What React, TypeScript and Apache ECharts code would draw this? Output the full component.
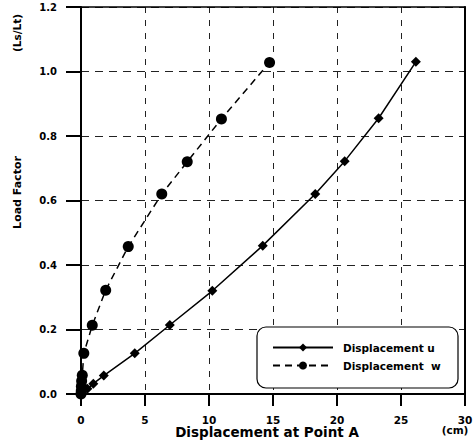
import React, { useEffect, useRef } from "react";
import * as echarts from "echarts";

const xTicks = [0, 5, 10, 15, 20, 25, 30];
const yTicks = [0, 0.2, 0.4, 0.6, 0.8, 1.0, 1.2];

const seriesUName = "Displacement u";
const seriesWName = "Displacement  w";

// [displacement (cm), load factor]
const dispU: [number, number][] = [
  [0, 0], [0.5, 0.016], [0.96, 0.032], [1.78, 0.057], [4.2, 0.126], [6.94, 0.214],
  [10.26, 0.32], [14.2, 0.46], [18.3, 0.62], [20.6, 0.722], [23.25, 0.855], [26.16, 1.03],
];
const dispW: [number, number][] = [
  [0, 0], [0.02, 0.01], [0.03, 0.024], [0.05, 0.04], [0.1, 0.058], [0.22, 0.126],
  [0.88, 0.213], [1.93, 0.322], [3.69, 0.457], [6.31, 0.62], [8.3, 0.72], [10.97, 0.853], [14.73, 1.028],
];

const FONT = "DejaVu Sans";

export default function App() {
  const ref = useRef<HTMLDivElement>(null);
  useEffect(() => {
    document.body.style.margin = "0";
    const chart = echarts.init(ref.current!, undefined, { renderer: "svg" });
    const xMin = xTicks[0], xMax = xTicks[xTicks.length - 1];
    const yMin = yTicks[0], yMax = yTicks[yTicks.length - 1];
    chart.setOption({
      animation: false,
      grid: { left: 81, right: 11, top: 7, bottom: 47 },
      xAxis: [
        {
          type: "value", min: xMin, max: xMax, interval: 5, position: "bottom",
          axisLine: { show: true, onZero: false, lineStyle: { color: "#000", width: 2 } },
          axisTick: { show: true, inside: false, length: 12, lineStyle: { color: "#000", width: 2 } },
          axisLabel: { margin: 20, color: "#000", fontFamily: FONT, fontWeight: "bold", fontSize: 10.5 },
          splitLine: { show: true, lineStyle: { color: "#222", width: 1, type: [6, 7] } },
        },
        {
          type: "value", min: xMin, max: xMax, interval: 5, position: "top",
          axisLine: { show: true, onZero: false, lineStyle: { color: "#000", width: 1.5 } },
          axisTick: { show: false }, axisLabel: { show: false }, splitLine: { show: false },
        },
      ],
      yAxis: [
        {
          type: "value", min: yMin, max: yMax, interval: 0.2, position: "left",
          axisLine: { show: true, onZero: false, lineStyle: { color: "#000", width: 2 } },
          axisTick: { show: true, inside: false, length: 15, lineStyle: { color: "#000", width: 2 } },
          axisLabel: {
            margin: 24, color: "#000", fontFamily: FONT, fontWeight: "bold", fontSize: 10,
            formatter: (v: number) => v.toFixed(1),
          },
          splitLine: { show: true, lineStyle: { color: "#222", width: 1, type: [8, 6] } },
        },
        {
          type: "value", min: yMin, max: yMax, interval: 0.2, position: "right",
          axisLine: { show: true, onZero: false, lineStyle: { color: "#000", width: 2 } },
          axisTick: { show: false }, axisLabel: { show: false }, splitLine: { show: false },
        },
      ],
      legend: {
        orient: "vertical", left: 272, top: 341, itemWidth: 60, itemHeight: 10, itemGap: 5,
        padding: 0, z: 10,
        textStyle: { fontFamily: FONT, fontWeight: "bold", fontSize: 10.5, color: "#000", padding: [0, 0, 0, 5], lineHeight: 13 },
        data: [seriesUName, seriesWName],
      },
      graphic: [
        {
          type: "rect", z: 5, shape: { x: 257, y: 327, width: 201, height: 61, r: 9 },
          style: { fill: "#fff", stroke: "#000", lineWidth: 1.2 },
        },
        {
          type: "text", x: 17.5, y: 192.5, rotation: Math.PI / 2,
          style: { text: "Load Factor", fontFamily: FONT, fontWeight: "bold", fontSize: 11, fill: "#000", align: "center", verticalAlign: "middle" },
        },
        {
          type: "text", x: 17, y: 33, rotation: Math.PI / 2,
          style: { text: "(Ls/Lt)", fontFamily: FONT, fontWeight: "bold", fontSize: 10.5, fill: "#000", align: "center", verticalAlign: "middle" },
        },
        {
          type: "text", x: 267, y: 432,
          style: { text: "Displacement at Point A", fontFamily: FONT, fontWeight: "bold", fontSize: 13.5, fill: "#000", align: "center", verticalAlign: "middle" },
        },
        {
          type: "text", x: 455, y: 430,
          style: { text: "(cm)", fontFamily: FONT, fontWeight: "bold", fontSize: 10.5, fill: "#000", align: "center", verticalAlign: "middle" },
        },
      ],
      series: [
        {
          name: seriesUName, type: "line", data: dispU, symbol: "diamond", symbolSize: 10,
          xAxisIndex: 0, yAxisIndex: 0,
          lineStyle: { color: "#000", width: 1.5, type: "solid" },
          itemStyle: { color: "#000" }, z: 3,
        },
        {
          name: seriesWName, type: "line", data: dispW, symbol: "circle", symbolSize: 11,
          xAxisIndex: 0, yAxisIndex: 0,
          lineStyle: { color: "#000", width: 1.5, type: [7, 5] },
          itemStyle: { color: "#000" }, z: 3,
        },
      ],
    });
    return () => chart.dispose();
  }, []);
  return <div ref={ref} style={{ width: 476, height: 441 }} />;
}
